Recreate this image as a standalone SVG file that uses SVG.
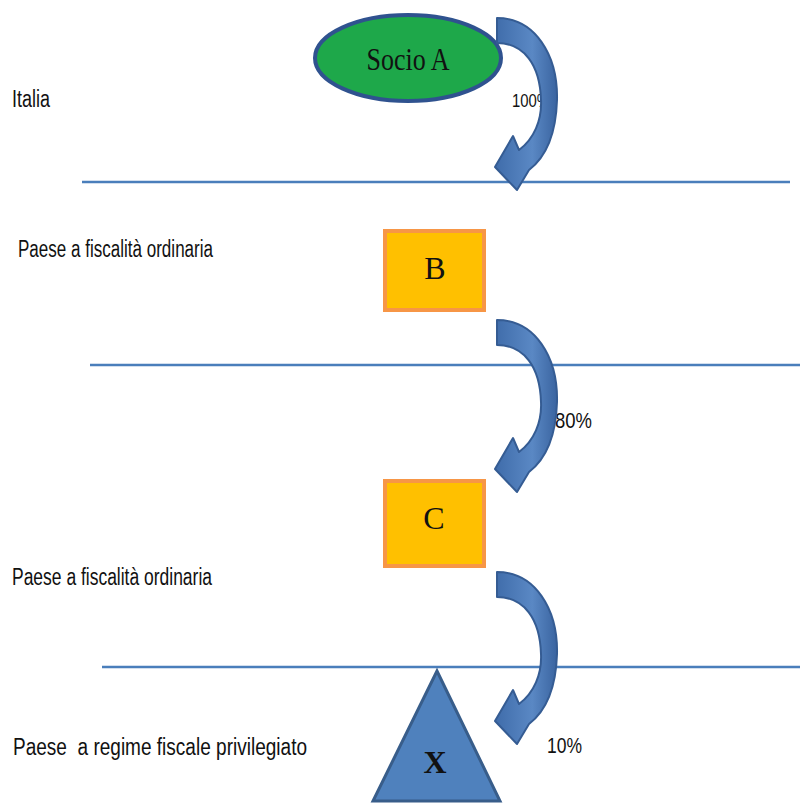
<svg xmlns="http://www.w3.org/2000/svg" xmlns:xlink="http://www.w3.org/1999/xlink" width="800" height="805" viewBox="0 0 800 805">
<style>
.lbl{font-family:"Liberation Sans","Open Sans",sans-serif;font-size:23px;fill:#111;white-space:pre}
.pct{font-family:"Liberation Sans","Open Sans",sans-serif;fill:#111}
.node{font-family:"Liberation Serif","DejaVu Serif",serif;font-size:32px;fill:#111;text-anchor:middle}
.sep{stroke:#4A7EBB;stroke-width:2.5;fill:none}
.box{fill:#FFC000;stroke:#F79646;stroke-width:4}
.arr{stroke:#355C93;stroke-width:2;stroke-linejoin:round}
</style>
<defs>
<linearGradient id="ag" x1="0" y1="0" x2="1" y2="0">
<stop offset="0" stop-color="#3F6CAA"/>
<stop offset="0.6" stop-color="#5A88C4"/>
<stop offset="1" stop-color="#3A64A0"/>
</linearGradient>
<path id="carrow" d="M 0 0 C 38 0, 61 37, 60 82 C 59 115, 49 139, 32 152 L 20 172 L -2 149 L 16 118 L 22 132 C 37 121, 45 102, 44 82 C 43 47, 27 25, 0 25 Z"/>
</defs>
<rect width="800" height="805" fill="#ffffff"/>
<g id="separators">
<line class="sep" x1="82" y1="182" x2="790" y2="182"/>
<line class="sep" x1="90" y1="365" x2="800" y2="365"/>
<line class="sep" x1="102" y1="667" x2="800" y2="667"/>
</g>
<g id="labels">
<text class="lbl" x="12" y="107" textLength="38" lengthAdjust="spacingAndGlyphs">Italia</text>
<text class="lbl" x="18" y="257" textLength="195" lengthAdjust="spacingAndGlyphs">Paese a fiscalità ordinaria</text>
<text class="lbl" x="12" y="585" textLength="200" lengthAdjust="spacingAndGlyphs">Paese a fiscalità ordinaria</text>
<text class="lbl" x="13" y="755" textLength="294" lengthAdjust="spacingAndGlyphs">Paese  a regime fiscale privilegiato</text>
<text class="pct" x="512" y="107" font-size="18" textLength="38" lengthAdjust="spacingAndGlyphs">100%</text>
<text class="pct" x="555" y="428" font-size="22" textLength="37" lengthAdjust="spacingAndGlyphs">80%</text>
<text class="pct" x="547" y="753" font-size="22" textLength="35" lengthAdjust="spacingAndGlyphs">10%</text>
</g>
<g id="nodeA">
<ellipse cx="408" cy="58" rx="93" ry="43" fill="#1EA84A" stroke="#2F528F" stroke-width="4"/>
<text class="node" x="408" y="70" textLength="83" lengthAdjust="spacingAndGlyphs">Socio A</text>
</g>
<g id="nodeB">
<rect class="box" x="385" y="231" width="99" height="79"/>
<text class="node" x="435" y="279">B</text>
</g>
<g id="nodeC">
<rect class="box" x="385" y="481" width="99" height="85"/>
<text class="node" x="434" y="529">C</text>
</g>
<g id="nodeX">
<polygon points="437,671 373,801 500,801" fill="#4F81BD" stroke="#385D8A" stroke-width="3" stroke-linejoin="miter"/>
<text class="node" x="435" y="773" font-weight="bold">X</text>
</g>
<g id="connectors">
<use xlink:href="#carrow" class="arr" fill="url(#ag)" transform="translate(497,18)"/>
<use xlink:href="#carrow" class="arr" fill="url(#ag)" transform="translate(497,320)"/>
<use xlink:href="#carrow" class="arr" fill="url(#ag)" transform="translate(497,572)"/>
</g>
</svg>
